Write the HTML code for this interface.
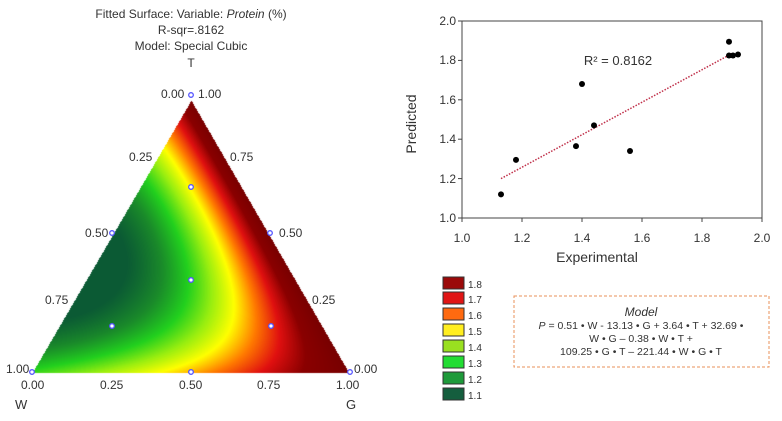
<!DOCTYPE html>
<html><head><meta charset="utf-8"><style>
html,body{margin:0;padding:0;background:#fff;}
#wrap{position:relative;width:782px;height:421px;overflow:hidden;font-family:"Liberation Sans",sans-serif;}
canvas{position:absolute;left:0;top:0;}
svg{position:absolute;left:0;top:0;}
</style></head><body><div id="wrap">
<canvas id="c" width="782" height="421"></canvas>
<svg width="782" height="421" viewBox="0 0 782 421" font-family="Liberation Sans, sans-serif" fill="#333">
<g font-size="12" text-anchor="middle">
<text x="191" y="18">Fitted Surface: Variable: <tspan font-style="italic">Protein</tspan> (%)</text>
<text x="191" y="34">R-sqr=.8162</text>
<text x="191" y="50">Model: Special Cubic</text>
<text x="191" y="67">T</text>
</g>
<g font-size="12">
<text x="161" y="98">0.00</text><text x="198" y="98">1.00</text>
<text x="129" y="161">0.25</text><text x="230" y="161">0.75</text>
<text x="85" y="237">0.50</text><text x="279" y="237">0.50</text>
<text x="45" y="304">0.75</text><text x="312" y="304">0.25</text>
<text x="6" y="373">1.00</text><text x="354" y="373">0.00</text>
<text x="21" y="389">0.00</text><text x="100" y="389">0.25</text><text x="179" y="389">0.50</text><text x="257" y="389">0.75</text><text x="336" y="389">1.00</text>
<text x="15" y="409" font-size="13">W</text><text x="346" y="409" font-size="13">G</text>
</g>
<g fill="#fff" stroke="#55f" stroke-width="1.3">
<circle cx="191" cy="95" r="2.3"/><circle cx="191" cy="187" r="2.3"/><circle cx="112" cy="233" r="2.3"/><circle cx="270" cy="233" r="2.3"/><circle cx="191" cy="280" r="2.3"/><circle cx="112" cy="326" r="2.3"/><circle cx="271" cy="326" r="2.3"/><circle cx="191" cy="372" r="2.3"/><circle cx="32" cy="372" r="2.3"/><circle cx="350" cy="372" r="2.3"/>
</g>
<rect x="462" y="21" width="300" height="197" fill="none" stroke="#444" stroke-width="1"/>
<g stroke="#444">
<line x1="458" y1="21" x2="462" y2="21"/><line x1="458" y1="60.4" x2="462" y2="60.4"/><line x1="458" y1="99.8" x2="462" y2="99.8"/><line x1="458" y1="139.2" x2="462" y2="139.2"/><line x1="458" y1="178.6" x2="462" y2="178.6"/><line x1="458" y1="218" x2="462" y2="218"/>
<line x1="462" y1="218" x2="462" y2="222"/><line x1="522" y1="218" x2="522" y2="222"/><line x1="582" y1="218" x2="582" y2="222"/><line x1="642" y1="218" x2="642" y2="222"/><line x1="702" y1="218" x2="702" y2="222"/><line x1="762" y1="218" x2="762" y2="222"/>
</g>
<g font-size="12" text-anchor="end">
<text x="456" y="25">2.0</text><text x="456" y="64">1.8</text><text x="456" y="104">1.6</text><text x="456" y="143">1.4</text><text x="456" y="183">1.2</text><text x="456" y="222">1.0</text>
</g>
<g font-size="12" text-anchor="middle">
<text x="462" y="242">1.0</text><text x="522" y="242">1.2</text><text x="582" y="242">1.4</text><text x="642" y="242">1.6</text><text x="702" y="242">1.8</text><text x="762" y="242">2.0</text>
<text x="597" y="262" font-size="14">Experimental</text>
<text x="618" y="65" font-size="13">R² = 0.8162</text>
</g>
<text transform="translate(416,124) rotate(-90)" font-size="14" text-anchor="middle">Predicted</text>
<line x1="501" y1="178.6" x2="732" y2="53.5" stroke="#c0304a" stroke-width="1.5" stroke-dasharray="1.5,1.5"/>
<g fill="#000">
<circle cx="501" cy="194.4" r="3"/><circle cx="516" cy="159.9" r="3"/><circle cx="576" cy="146.1" r="3"/><circle cx="582" cy="84" r="3"/><circle cx="594" cy="125.4" r="3"/><circle cx="630" cy="151" r="3"/><circle cx="729" cy="41.7" r="3"/><circle cx="729" cy="55.5" r="3"/><circle cx="733" cy="55.5" r="3"/><circle cx="738" cy="54.5" r="3"/>
</g>
<g stroke="#333" stroke-width="1">
<rect x="443" y="277" width="21" height="12" fill="#9b0a0a"/>
<rect x="443" y="292" width="21" height="12" fill="#e01515"/>
<rect x="443" y="308" width="21" height="12" fill="#ff6a10"/>
<rect x="443" y="324" width="21" height="12" fill="#ffee20"/>
<rect x="443" y="340" width="21" height="12" fill="#99e020"/>
<rect x="443" y="356" width="21" height="12" fill="#22dd33"/>
<rect x="443" y="372" width="21" height="12" fill="#1e9a3a"/>
<rect x="443" y="388" width="21" height="12" fill="#155e3e"/>
</g>
<g font-size="10">
<text x="468" y="288">1.8</text><text x="468" y="303">1.7</text><text x="468" y="319">1.6</text><text x="468" y="335">1.5</text><text x="468" y="351">1.4</text><text x="468" y="367">1.3</text><text x="468" y="383">1.2</text><text x="468" y="399">1.1</text>
</g>
<rect x="514" y="296" width="255" height="71" fill="none" stroke="#e8905a" stroke-width="1" stroke-dasharray="3,2"/>
<g font-size="10.5" text-anchor="middle">
<text x="641" y="316" font-style="italic" font-size="12">Model</text>
<text x="641" y="329"><tspan font-style="italic">P</tspan> = 0.51 • W - 13.13 • G + 3.64 • T + 32.69 •</text>
<text x="641" y="342">W • G – 0.38 • W • T +</text>
<text x="641" y="355">109.25 • G • T – 221.44 • W • G • T</text>
</g>
</svg>
</div>
<script>
var c=document.getElementById('c').getContext('2d');
var stops=[[1.1,[11,90,52]],[1.2,[26,138,42]],[1.3,[34,208,30]],[1.4,[153,238,16]],[1.5,[255,255,0]],[1.6,[255,122,0]],[1.7,[224,16,16]],[1.8,[138,0,0]],[1.95,[115,0,0]]];
function col(v){if(v<=1.1)return stops[0][1];for(var i=0;i<stops.length-1;i++){if(v<=stops[i+1][0]){var t=(v-stops[i][0])/(stops[i+1][0]-stops[i][0]);var a=stops[i][1],b=stops[i+1][1];return [a[0]+(b[0]-a[0])*t,a[1]+(b[1]-a[1])*t,a[2]+(b[2]-a[2])*t];}}return stops[stops.length-1][1];}
var img=c.createImageData(782,421),d=img.data;
for(var y=101;y<=372;y++)for(var x=25;x<360;x++){
var T=(372-y)/271;
var left=33+T*158,w=315*(1-T);
if(x<left-0.5||x>left+w+0.5)continue;
var G=(x-left)/315;if(G<0)G=0;var W=1-T-G;if(W<0)W=0;
var f=1.32*W+1.92*G+1.9*T-0.25*W*G-2.1*W*T-3.8*W*G*T;
var cc=col(f);var k=(y*782+x)*4;d[k]=cc[0];d[k+1]=cc[1];d[k+2]=cc[2];d[k+3]=255;}
c.putImageData(img,0,0);
</script>
</body></html>
